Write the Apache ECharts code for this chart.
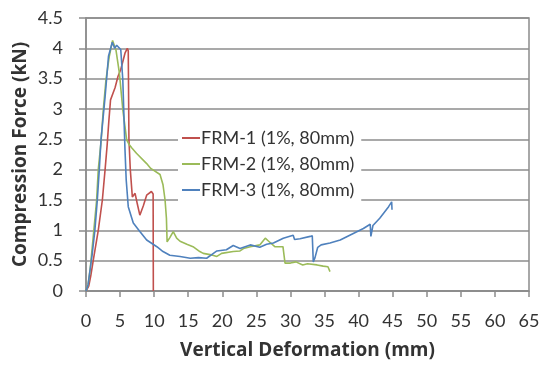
<!DOCTYPE html>
<html>
<head>
<meta charset="utf-8">
<script src="https://cdn.jsdelivr.net/npm/echarts@6/dist/echarts.min.js"></script>
<style>
  html, body { margin: 0; padding: 0; background: #fff; }
  #chart { width: 545px; height: 366px; }
</style>
</head>
<body>
<div id="chart"></div>
<script>
// series names
const SERIES_NAMES = ['FRM-1 (1%, 80mm)', 'FRM-2 (1%, 80mm)', 'FRM-3 (1%, 80mm)'];

// [deformation mm, force kN]
const frm1 = [
  [0, 0], [0.4, 0.08], [0.7, 0.25], [1.07, 0.51], [1.8, 1.0], [2.4, 1.5], [2.8, 2.0],
  [3.1, 2.4], [3.35, 2.8], [3.6, 3.15], [4.26, 3.35], [4.7, 3.54], [5.1, 3.65],
  [5.72, 3.92], [6.06, 4.0], [6.2, 3.96], [6.3, 2.5], [6.5, 2.0], [6.8, 1.55],
  [7.2, 1.61], [7.5, 1.45], [7.9, 1.25], [8.4, 1.4], [8.9, 1.58], [9.6, 1.64],
  [9.85, 1.6], [9.88, 0]
];
const frm2 = [
  [0, 0], [0.3, 0.1], [0.6, 0.35], [1.15, 1.0], [1.56, 1.5], [1.8, 2.0], [2.2, 2.45],
  [2.54, 2.99], [2.93, 3.48], [3.42, 3.87], [3.9, 4.13], [4.4, 3.97], [4.9, 3.59],
  [5.4, 2.99], [5.97, 2.49], [6.3, 2.42], [6.7, 2.36], [7.4, 2.27], [8.9, 2.1],
  [9.5, 2.02], [10.86, 1.92], [11.3, 1.75], [11.6, 1.5], [11.8, 1.2], [11.9, 0.81],
  [12.3, 0.88], [12.8, 0.98], [13.3, 0.87], [13.8, 0.82], [14.8, 0.77], [15.7, 0.73],
  [16.7, 0.65], [17.2, 0.62], [18.2, 0.6], [19.2, 0.57], [19.9, 0.62], [21.6, 0.65],
  [22.6, 0.66], [23.1, 0.7], [24.1, 0.73], [25.5, 0.76], [26.3, 0.87], [26.8, 0.82],
  [27.7, 0.73], [28.9, 0.73], [29.2, 0.46], [30.0, 0.46], [30.8, 0.48], [31.8, 0.43],
  [32.5, 0.45], [33.9, 0.43], [34.8, 0.41], [35.5, 0.4], [35.8, 0.32]
];
const frm3 = [
  [0, 0], [0.3, 0.1], [0.6, 0.35], [0.9, 0.6], [1.3, 1.0], [1.66, 1.5], [1.95, 2.0],
  [2.2, 2.49], [2.8, 3.2], [3.3, 3.87], [3.86, 4.1], [4.2, 4.0], [4.5, 4.05],
  [4.74, 4.04], [5.1, 3.98], [5.4, 3.48], [5.72, 2.33], [5.9, 1.83], [6.2, 1.39],
  [6.94, 1.12], [7.9, 0.98], [8.9, 0.84], [10.4, 0.73], [11.3, 0.65], [12.3, 0.59],
  [13.8, 0.57], [15.3, 0.54], [16.5, 0.55], [17.7, 0.54], [18.7, 0.62], [19.2, 0.66],
  [20.6, 0.68], [21.6, 0.75], [22.6, 0.7], [24.1, 0.76], [25.5, 0.72], [26.5, 0.77],
  [27.5, 0.79], [28.95, 0.87], [30.4, 0.92], [30.6, 0.85], [31.4, 0.86], [32.9, 0.9],
  [33.2, 0.91], [33.35, 0.48], [33.6, 0.55], [34.0, 0.72], [34.5, 0.76], [35.8, 0.79],
  [37.3, 0.84], [38.7, 0.92], [40.7, 1.03], [41.7, 1.1], [41.8, 0.9], [42.1, 1.08],
  [43.1, 1.2], [44.4, 1.39], [44.85, 1.47], [44.9, 1.34]
];

const COLORS = ['#C0504D', '#9BBB59', '#4F81BD'];
const FONT = 'Lato, "Open Sans", sans-serif';
const TITLE_FONT = '"Open Sans", Lato, sans-serif';
const TEXT = '#333333';
const GRID = '#8c8c8c';

const chart = echarts.init(document.getElementById('chart'), null, { renderer: 'canvas' });

const seriesData = [frm1, frm2, frm3];

chart.setOption({
  animation: false,
  backgroundColor: '#fff',
  textStyle: { fontFamily: FONT },
  grid: {
    left: 86, right: 16, top: 18, bottom: 75,
    show: true, borderColor: GRID, borderWidth: 1.5
  },
  legend: {
    data: SERIES_NAMES,
    orient: 'vertical',
    left: 178, top: 123,
    padding: [6, 7, 6, 4],
    backgroundColor: '#fff',
    itemWidth: 18, itemHeight: 2, itemGap: 8,
    icon: 'rect',
    textStyle: { fontFamily: FONT, fontSize: 18, color: TEXT, padding: [0, 0, 0, -4] }
  },
  xAxis: {
    type: 'value',
    min: 0, max: 65, interval: 5,
    name: 'Vertical Deformation (mm)',
    nameLocation: 'middle', nameGap: 50, nameMoveOverlap: false,
    nameTextStyle: { fontFamily: TITLE_FONT, fontSize: 19, fontWeight: 'bold', color: TEXT },
    axisLine: { show: true, lineStyle: { color: GRID, width: 1.5 } },
    axisTick: { show: true, length: 6, lineStyle: { color: GRID, width: 1.5 } },
    axisLabel: { margin: 21, fontSize: 18, color: TEXT, fontFamily: FONT },
    splitLine: { show: false }
  },
  yAxis: {
    type: 'value',
    min: 0, max: 4.5, interval: 0.5,
    name: 'Compression Force (kN)',
    nameLocation: 'middle', nameGap: 56, nameMoveOverlap: false,
    nameTextStyle: { fontFamily: TITLE_FONT, fontSize: 19, fontWeight: 'bold', color: TEXT },
    axisLine: { show: true, lineStyle: { color: GRID, width: 1.5 } },
    axisTick: { show: true, length: 7, lineStyle: { color: GRID, width: 1.5 } },
    axisLabel: { margin: 23, fontSize: 18, color: TEXT, fontFamily: FONT },
    splitLine: { show: true, lineStyle: { color: GRID, width: 1.5 } }
  },
  series: seriesData.map((d, i) => ({
    name: SERIES_NAMES[i],
    type: 'line',
    data: d,
    showSymbol: false,
    smooth: false,
    lineStyle: { color: COLORS[i], width: 1.6 },
    itemStyle: { color: COLORS[i] }
  }))
});
</script>
</body>
</html>
